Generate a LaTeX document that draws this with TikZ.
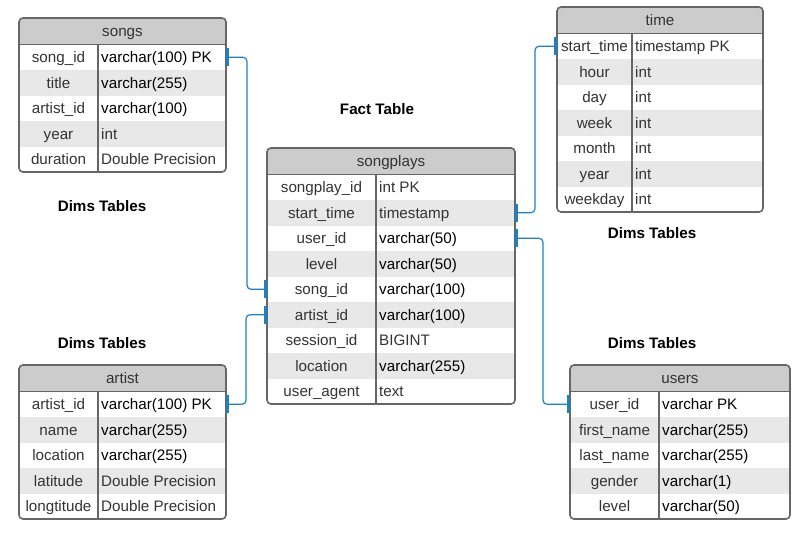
\documentclass[tikz,border=0pt]{standalone}
\usepackage{fontspec}
\setmainfont{Liberation Sans}
\usepackage{xcolor}

\definecolor{texto}{HTML}{333333}
\definecolor{borde}{HTML}{666666}
\definecolor{gris}{HTML}{CCCCCC}
\definecolor{franja}{HTML}{E8E8E8}
\definecolor{azul}{HTML}{1F80C2}

\tikzset{
  borde/.style={draw=borde, line width=1.6pt},
  cabecera/.style={fill=gris},
  franja/.style={fill=franja},
  letra/.style={font=\fontsize{15.2}{18}\selectfont, inner sep=0pt,
    text height=11pt, text depth=0.5pt},
  campo/.style={letra, text=texto},
  tipo/.style={letra, anchor=west},
  titulo/.style={letra, text=texto},
  etiqueta/.style={font=\bfseries\fontsize{15.2}{18}\selectfont},
  enlace/.style={draw=azul, line width=1.2pt, rounded corners=4pt},
  marca/.style={draw=azul, line width=2.2pt}
}

% Tabla: #1 nombre, #2 izquierda, #3 arriba, #4 derecha, #5 division,
% #6 titulo, #7 filas, #8 campo/tipo/color
\newcommand{\tabla}[8]{%
  \pgfmathsetmacro{\hb}{#3+26.5}
  \pgfmathsetmacro{\fondo}{#3+26.5+#7*25.5}
  \fill[cabecera] (#2,\hb) {[rounded corners=4pt] -- (#2,#3) -- (#4,#3)} -- (#4,\hb) -- cycle;
  \foreach \campo/\tipo/\tono [count=\i] in {#8} {
    \pgfmathsetmacro{\ya}{\hb+(\i-1)*25.5}
    \pgfmathsetmacro{\yc}{\ya+12.75}
    \ifodd\i\else \fill[franja] (#2,\ya) rectangle (#4,\ya+25.5); \fi
    \node[campo] (#1-\i-c) at ({(#2+#5)/2},\yc) {\campo};
    \node[tipo, text=\tono] (#1-\i-t) at (#5+3,\yc) {\tipo};
    \coordinate (#1-\i-w) at (#2,\yc);
    \coordinate (#1-\i-e) at (#4,\yc);
  }
  \node[titulo] (#1) at ({(#2+#4)/2},#3+13.25) {#6};
  \draw[borde] (#2,\hb) -- (#4,\hb);
  \draw[borde] (#5,\hb) -- (#5,\fondo);
  \draw[borde, rounded corners=4pt] (#2,#3) rectangle (#4,\fondo);
}

\begin{document}
\begin{tikzpicture}[x=1pt, y=-1pt]
  \useasboundingbox (0,0) rectangle (805,539);

  % Paso 1: Tablas de dimensiones y tabla de hechos
  \tabla{songs}{19}{18}{226}{98}{songs}{5}{%
    song\_id/varchar(100) PK/black, title/varchar(255)/black,
    artist\_id/varchar(100)/black, year/int/texto, duration/Double Precision/texto}
  \tabla{songplays}{267}{148}{515}{376}{songplays}{9}{%
    songplay\_id/int PK/texto, start\_time/timestamp/texto, user\_id/varchar(50)/black,
    level/varchar(50)/black, song\_id/varchar(100)/black, artist\_id/varchar(100)/black,
    session\_id/BIGINT/texto, location/varchar(255)/black, user\_agent/text/texto}
  \tabla{time}{557}{7}{763}{632}{time}{7}{%
    start\_time/timestamp PK/texto, hour/int/texto, day/int/texto, week/int/texto,
    month/int/texto, year/int/texto, weekday/int/texto}
  \tabla{artist}{19}{365}{226}{98}{artist}{5}{%
    artist\_id/varchar(100) PK/black, name/varchar(255)/black,
    location/varchar(255)/black, latitude/Double Precision/texto,
    longtitude/Double Precision/texto}
  \tabla{users}{570}{365}{790}{659}{users}{5}{%
    user\_id/varchar PK/black, first\_name/varchar(255)/black,
    last\_name/varchar(255)/black, gender/varchar(1)/black, level/varchar(50)/black}

  % Paso 2: Leyendas
  \node[etiqueta] (hechos) at (377,109) {Fact Table};
  \node[etiqueta] (dims-songs) at (102,206) {Dims Tables};
  \node[etiqueta] (dims-artist) at (102,343) {Dims Tables};
  \node[etiqueta] (dims-time) at (652,233) {Dims Tables};
  \node[etiqueta] (dims-users) at (652,343) {Dims Tables};

  % Paso 3: Relaciones entre claves
  \draw[enlace] (songs-1-e) -- ++(21,0) |- (songplays-5-w);
  \draw[enlace] (artist-1-e) -- ++(20,0) |- (songplays-6-w);
  \draw[enlace] (time-1-w) -- ++(-22,0) |- (songplays-2-e);
  \draw[enlace] (users-1-w) -- ++(-27,0) |- (songplays-3-e);

  % Paso 4: Marcas en los extremos
  \foreach \p/\d in {songs-1-e/1.5, songplays-5-w/-1.5, artist-1-e/1.5,
                     songplays-6-w/-1.5, time-1-w/-1.5, songplays-2-e/1.5,
                     users-1-w/-1.5, songplays-3-e/1.5}
    \draw[marca] (\p) ++(\d,-9) -- ++(0,18);
\end{tikzpicture}
\end{document}
